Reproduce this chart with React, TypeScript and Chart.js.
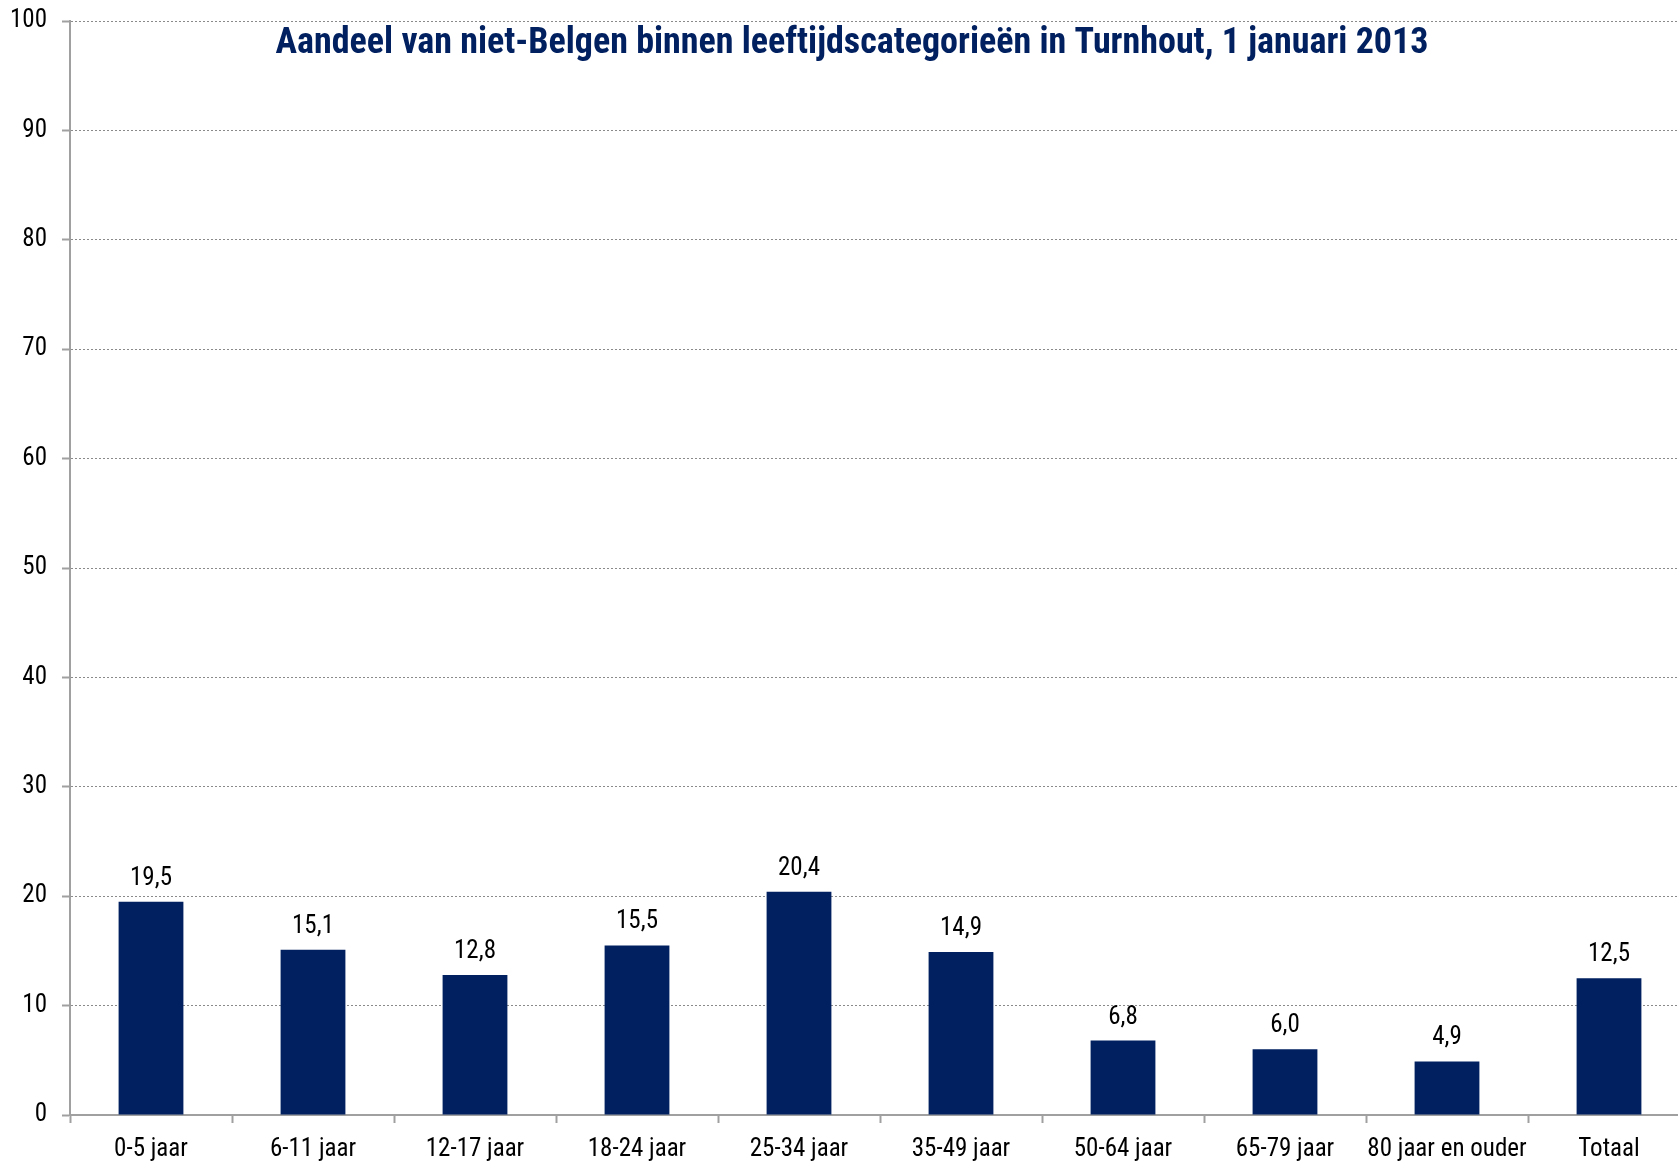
import React, { useEffect, useRef } from "react";
import { Chart, registerables } from "chart.js";

Chart.register(...registerables);

const TITLE = "Aandeel van niet-Belgen binnen leeftijdscategorieën in Turnhout, 1 januari 2013";
const categories = [
  "0-5 jaar",
  "6-11 jaar",
  "12-17 jaar",
  "18-24 jaar",
  "25-34 jaar",
  "35-49 jaar",
  "50-64 jaar",
  "65-79 jaar",
  "80 jaar en ouder",
  "Totaal",
];
const shareValues = [19.5, 15.1, 12.8, 15.5, 20.4, 14.9, 6.8, 6.0, 4.9, 12.5];
const yMin = 0;
const yMax = 100;
const yStep = 10;

const FONT = "'Roboto Condensed', 'Liberation Sans', sans-serif";
const NAVY = "#002060";
const AXIS_GRAY = "#a0a0a0";

const valueLabelPlugin = {
  id: "valueLabels",
  afterDatasetsDraw(chart: any) {
    const ctx = chart.ctx;
    const meta = chart.getDatasetMeta(0);
    ctx.save();
    ctx.font = `25px ${FONT}`;
    ctx.fillStyle = "#000";
    ctx.textAlign = "center";
    ctx.textBaseline = "alphabetic";
    meta.data.forEach((bar: any, i: number) => {
      const v = shareValues[i];
      ctx.fillText(v.toFixed(1).replace(".", ","), bar.x, bar.y - 17);
    });
    ctx.restore();
  },
};

const titlePlugin = {
  id: "innerTitle",
  afterDraw(chart: any) {
    const ctx = chart.ctx;
    ctx.save();
    ctx.font = `bold 36px ${FONT}`;
    ctx.fillStyle = NAVY;
    ctx.textAlign = "center";
    ctx.textBaseline = "alphabetic";
    ctx.fillText(TITLE, 852, 53);
    ctx.restore();
  },
};

export default function App() {
  const canvasRef = useRef<HTMLCanvasElement | null>(null);

  useEffect(() => {
    document.documentElement.style.overflow = "hidden";
    document.body.style.overflow = "hidden";
    const canvas = canvasRef.current;
    if (!canvas) return;
    const chart = new Chart(canvas, {
      type: "bar",
      data: {
        labels: categories,
        datasets: [
          {
            data: shareValues,
            backgroundColor: NAVY,
            borderWidth: 0,
            barPercentage: 0.4,
            categoryPercentage: 1,
          },
        ],
      },
      options: {
        animation: false,
        responsive: false,
        maintainAspectRatio: false,
        devicePixelRatio: 1,
        layout: { padding: { top: 21, right: 10, left: 0, bottom: 0 } },
        plugins: {
          legend: { display: false },
          title: { display: false },
          tooltip: { enabled: false },
        },
        scales: {
          x: {
            grid: {
              display: true,
              drawOnChartArea: false,
              drawTicks: true,
              tickLength: 8,
              tickColor: AXIS_GRAY,
              tickWidth: 2,
              offset: true,
            },
            border: { display: true, color: AXIS_GRAY, width: 2 },
            ticks: {
              color: "#000",
              font: { family: FONT, size: 25 },
              padding: 12,
              maxRotation: 0,
              autoSkip: false,
            },
            afterFit(scale: any) {
              scale.height = 47;
              scale.paddingLeft = 0;
              scale.paddingRight = 0;
            },
          },
          y: {
            min: yMin,
            max: yMax,
            grid: {
              color: "#8a8a8a",
              lineWidth: 1,
              drawTicks: true,
              tickLength: 8,
              tickColor: AXIS_GRAY,
              tickWidth: 2,
            },
            border: { display: true, color: AXIS_GRAY, width: 2, dash: [2, 2] },
            ticks: {
              stepSize: yStep,
              color: "#000",
              font: { family: FONT, size: 25 },
              padding: 15,
            },
            afterFit(scale: any) {
              scale.width = 70;
              scale.paddingTop = 0;
              scale.paddingBottom = 0;
            },
          },
        },
      },
      plugins: [valueLabelPlugin, titlePlugin],
    });
    return () => chart.destroy();
  }, []);

  return (
    <div style={{ position: "absolute", left: 0, top: 0, width: 1700, height: 1162, background: "#fff" }}>
      <canvas ref={canvasRef} width={1700} height={1162} style={{ width: 1700, height: 1162, display: "block" }} />
    </div>
  );
}
